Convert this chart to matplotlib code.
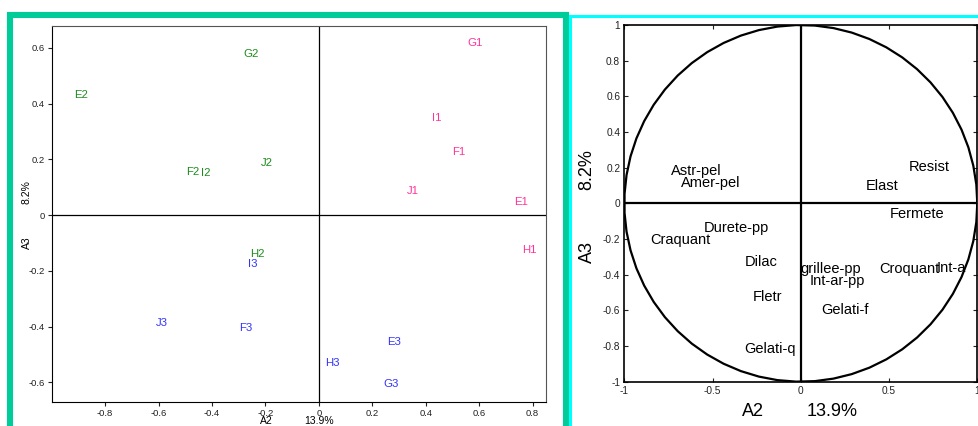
import numpy as np
import matplotlib
matplotlib.use("Agg")
import matplotlib.pyplot as plt
from matplotlib.patches import Rectangle

plt.rcParams['font.family'] = ['Liberation Sans', 'DejaVu Sans']

# individuals (left map), coordinates on A2 / A3
labels_1 = ["G1", "I1", "F1", "J1", "E1", "H1"]
x_1 = [0.586, 0.44, 0.525, 0.35, 0.757, 0.789]
y_1 = [0.619, 0.35, 0.228, 0.088, 0.049, -0.124]

labels_2 = ["G2", "E2", "F2", "I2", "J2", "H2"]
x_2 = [-0.255, -0.891, -0.473, -0.424, -0.193, -0.23]
y_2 = [0.577, 0.431, 0.155, 0.152, 0.187, -0.14]

labels_3 = ["I3", "J3", "F3", "E3", "H3", "G3"]
x_3 = [-0.248, -0.589, -0.274, 0.28, 0.049, 0.271]
y_3 = [-0.176, -0.386, -0.406, -0.453, -0.529, -0.606]

# variables (correlation circle)
var_names = ["Astr-pel", "Amer-pel", "Resist", "Elast", "Fermete", "Durete-pp",
             "Craquant", "Dilac", "grillee-pp", "Int-ar-pp", "Croquant", "Int-a",
             "Fletr", "Gelati-f", "Gelati-q"]
var_x = [-0.735, -0.679, 0.611, 0.369, 0.505, -0.552,
         -0.854, -0.316, -0.005, 0.052, 0.445, 0.77,
         -0.273, 0.118, -0.322]
var_y = [0.183, 0.116, 0.205, 0.099, -0.06, -0.14,
         -0.206, -0.331, -0.368, -0.434, -0.37, -0.365,
         -0.524, -0.598, -0.819]

left_xticks = [-0.8, -0.6, -0.4, -0.2, 0, 0.2, 0.4, 0.6, 0.8]
left_yticks = [-0.6, -0.4, -0.2, 0, 0.2, 0.4, 0.6]
right_xticks = [-1, -0.5, 0, 0.5, 1]
right_yticks = [-1, -0.8, -0.6, -0.4, -0.2, 0, 0.2, 0.4, 0.6, 0.8, 1]


def fmt(v):
    s = ("%g" % v)
    return s


W, H = 979, 426
fig = plt.figure(figsize=(W / 100, H / 100), dpi=100)


def fx(px):
    return px / W


def fy(py):
    return 1 - py / H


# panel frames
fig.patches.append(Rectangle((fx(9.5), fy(440)), fx(565.5) - fx(9.5), fy(15.3) - fy(440),
                             transform=fig.transFigure, fill=False,
                             edgecolor="#00CC99", linewidth=4.4, zorder=0))
fig.patches.append(Rectangle((fx(570.5), fy(440)), fx(1000) - fx(570.5), fy(16) - fy(440),
                             transform=fig.transFigure, fill=False,
                             edgecolor="#00FFFF", linewidth=2.2, zorder=0))

# ---- left: individuals map
ax1 = fig.add_axes([fx(51.7), fy(402), fx(546) - fx(51.7), fy(25.7) - fy(402)])
ax1.set_xlim(-1.0, 0.85)
ax1.set_ylim(-0.67, 0.68)
ax1.axhline(0, color="black", lw=0.9)
ax1.axvline(0, color="black", lw=0.9)
for lab, xx, yy in zip(labels_1, x_1, y_1):
    ax1.text(xx, yy, lab, color="#FF3399", fontsize=8.2, ha="center", va="center")
for lab, xx, yy in zip(labels_2, x_2, y_2):
    ax1.text(xx, yy, lab, color="#1A8C1A", fontsize=8.2, ha="center", va="center")
for lab, xx, yy in zip(labels_3, x_3, y_3):
    ax1.text(xx, yy, lab, color="#3333FF", fontsize=8.2, ha="center", va="center")
ax1.set_xticks(left_xticks)
ax1.set_xticklabels([fmt(v) for v in left_xticks])
ax1.set_yticks(left_yticks)
ax1.set_yticklabels([fmt(v) for v in left_yticks])
ax1.tick_params(direction="out", length=3, width=0.8, labelsize=6.8, pad=2, colors="#222222")
for s in ["top", "right"]:
    ax1.spines[s].set_color("#555555")
for s in ["left", "bottom"]:
    ax1.spines[s].set_color("black")

fig.text(fx(266.7), fy(421), "A2", fontsize=7.5, ha="center", va="center")
fig.text(fx(319), fy(421), "13.9%", fontsize=7.5, ha="center", va="center")
fig.text(fx(26.7), fy(243), "A3", fontsize=7.5, ha="center", va="center", rotation=90)
fig.text(fx(26.7), fy(192), "8.2%", fontsize=7.5, ha="center", va="center", rotation=90)

# ---- right: correlation circle
ax2 = fig.add_axes([fx(624.3), fy(381.7), fx(977.3) - fx(624.3), fy(25) - fy(381.7)])
ax2.set_xlim(-1, 1)
ax2.set_ylim(-1, 1)
t = np.linspace(0, 2 * np.pi, 60)
ax2.plot(np.cos(t), np.sin(t), color="black", lw=1.6)
ax2.axhline(0, color="black", lw=1.6)
ax2.axvline(0, color="black", lw=1.6)
for name, xx, yy in zip(var_names, var_x, var_y):
    ax2.text(xx, yy, name, fontsize=10.5, ha="left", va="center")
ax2.set_xticks(right_xticks)
ax2.set_xticklabels([fmt(v) for v in right_xticks])
ax2.set_yticks(right_yticks)
ax2.set_yticklabels([fmt(v) for v in right_yticks])
ax2.tick_params(direction="in", length=3, width=0.8, labelsize=7.3, pad=3,
                top=True, right=True, colors="#222222")
for s in ax2.spines.values():
    s.set_linewidth(1.2)

fig.text(fx(753.3), fy(411), "A2", fontsize=13, ha="center", va="center")
fig.text(fx(831.7), fy(411), "13.9%", fontsize=13, ha="center", va="center")
fig.text(fx(587), fy(251.7), "A3", fontsize=13, ha="center", va="center", rotation=90)
fig.text(fx(587), fy(170), "8.2%", fontsize=13, ha="center", va="center", rotation=90)

fig.savefig("out.png", dpi=100)
